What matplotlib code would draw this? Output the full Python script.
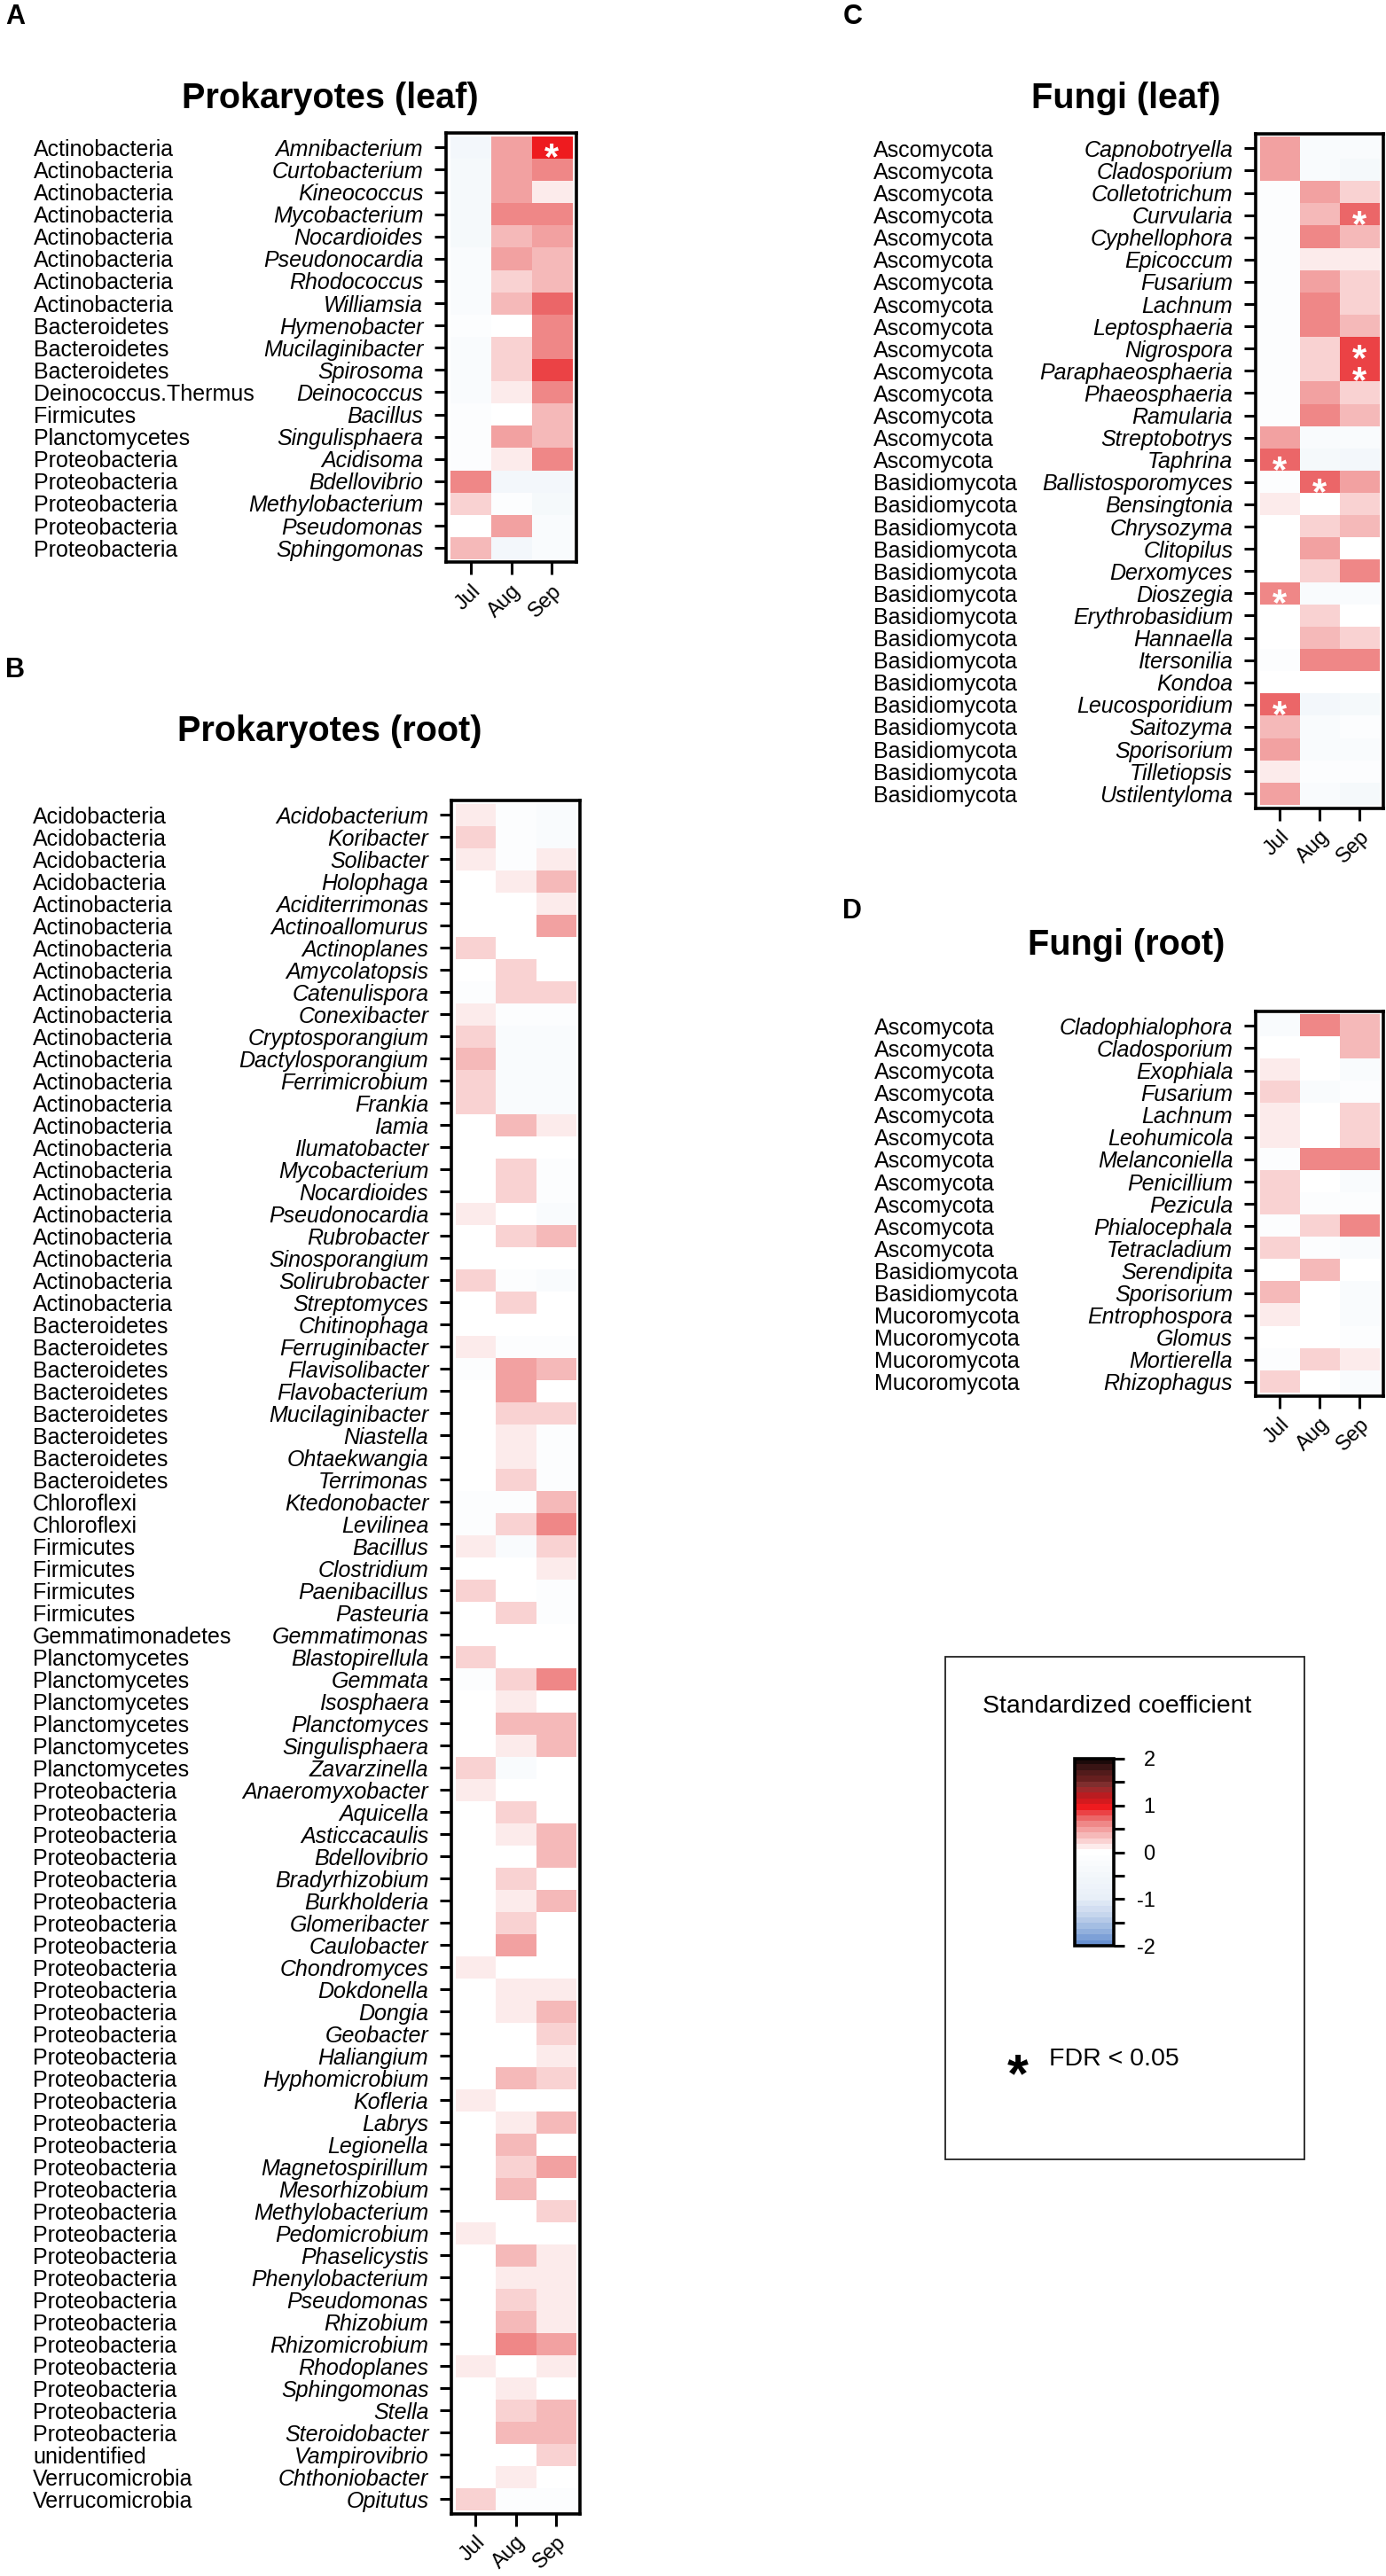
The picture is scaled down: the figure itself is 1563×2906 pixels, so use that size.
import numpy as np
import matplotlib
matplotlib.use('Agg')
import matplotlib.pyplot as plt
from matplotlib import transforms
from matplotlib.colors import LinearSegmentedColormap, Normalize
from matplotlib.cm import ScalarMappable
from matplotlib.patches import Rectangle

plt.rcParams['font.family'] = ['Liberation Sans', 'DejaVu Sans']

months = ['Jul', 'Aug', 'Sep']

# A: prokaryotes (leaf)
a_phylum = ['Actinobacteria'] * 8 + ['Bacteroidetes'] * 3 + ['Deinococcus.Thermus', 'Firmicutes', 'Planctomycetes'] + ['Proteobacteria'] * 5
a_genus = ['Amnibacterium', 'Curtobacterium', 'Kineococcus', 'Mycobacterium', 'Nocardioides', 'Pseudonocardia',
           'Rhodococcus', 'Williamsia', 'Hymenobacter', 'Mucilaginibacter', 'Spirosoma', 'Deinococcus', 'Bacillus',
           'Singulisphaera', 'Acidisoma', 'Bdellovibrio', 'Methylobacterium', 'Pseudomonas', 'Sphingomonas']
a_jul = [-0.5, -0.4, -0.4, -0.4, -0.4, -0.3, -0.3, -0.3, -0.1, -0.3, -0.3, -0.2, -0.1, -0.1, -0.1, 0.55, 0.3, 0.02, 0.35]
a_aug = [0.5, 0.5, 0.45, 0.6, 0.38, 0.5, 0.25, 0.42, 0.0, 0.3, 0.22, 0.18, 0.02, 0.48, 0.08, -0.5, -0.1, 0.5, -0.5]
a_sep = [1.0, 0.65, 0.12, 0.55, 0.5, 0.32, 0.38, 0.68, 0.55, 0.62, 0.85, 0.55, 0.35, 0.32, 0.6, -0.5, -0.4, -0.2, -0.3]
a_sig = [('Amnibacterium', 'Sep')]

# B: prokaryotes (root)
b_phylum = (['Acidobacteria'] * 4 + ['Actinobacteria'] * 19 + ['Bacteroidetes'] * 8 + ['Chloroflexi'] * 2
            + ['Firmicutes'] * 4 + ['Gemmatimonadetes'] + ['Planctomycetes'] * 6 + ['Proteobacteria'] * 30
            + ['unidentified'] + ['Verrucomicrobia'] * 2)
b_genus = ['Acidobacterium', 'Koribacter', 'Solibacter', 'Holophaga', 'Aciditerrimonas', 'Actinoallomurus',
           'Actinoplanes', 'Amycolatopsis', 'Catenulispora', 'Conexibacter', 'Cryptosporangium',
           'Dactylosporangium', 'Ferrimicrobium', 'Frankia', 'Iamia', 'Ilumatobacter', 'Mycobacterium',
           'Nocardioides', 'Pseudonocardia', 'Rubrobacter', 'Sinosporangium', 'Solirubrobacter', 'Streptomyces',
           'Chitinophaga', 'Ferruginibacter', 'Flavisolibacter', 'Flavobacterium', 'Mucilaginibacter', 'Niastella',
           'Ohtaekwangia', 'Terrimonas', 'Ktedonobacter', 'Levilinea', 'Bacillus', 'Clostridium', 'Paenibacillus',
           'Pasteuria', 'Gemmatimonas', 'Blastopirellula', 'Gemmata', 'Isosphaera', 'Planctomyces',
           'Singulisphaera', 'Zavarzinella', 'Anaeromyxobacter', 'Aquicella', 'Asticcacaulis', 'Bdellovibrio',
           'Bradyrhizobium', 'Burkholderia', 'Glomeribacter', 'Caulobacter', 'Chondromyces', 'Dokdonella',
           'Dongia', 'Geobacter', 'Haliangium', 'Hyphomicrobium', 'Kofleria', 'Labrys', 'Legionella',
           'Magnetospirillum', 'Mesorhizobium', 'Methylobacterium', 'Pedomicrobium', 'Phaselicystis',
           'Phenylobacterium', 'Pseudomonas', 'Rhizobium', 'Rhizomicrobium', 'Rhodoplanes', 'Sphingomonas',
           'Stella', 'Steroidobacter', 'Vampirovibrio', 'Chthoniobacter', 'Opitutus']
b_jul = [0.12, 0.2, 0.1, 0.0, 0.06, 0.0, 0.2, 0.0, -0.1, 0.15, 0.28, 0.38, 0.28, 0.28, 0.0, 0.06, 0.0, 0.0, 0.12,
         0.0, 0.05, 0.25, 0.05, 0.02, 0.15, -0.1, 0.0, -0.05, -0.05, -0.05, 0.0, -0.1, -0.1, 0.15, 0.0, 0.25, 0.0,
         0.0, 0.22, -0.1, 0.0, -0.05, -0.05, 0.25, 0.12, 0.0, 0.0, 0.0, 0.0, 0.0, 0.0, 0.0, 0.15, 0.0, -0.05, 0.0,
         0.0, -0.05, 0.15, 0.0, 0.0, -0.05, 0.0, 0.0, 0.12, 0.0, 0.0, 0.0, 0.0, 0.0, 0.08, 0.0, 0.0, -0.05, 0.0,
         0.0, 0.22]
b_aug = [-0.1, -0.1, -0.1, 0.12, 0.0, 0.05, 0.0, 0.22, 0.22, -0.1, -0.2, -0.3, -0.2, -0.2, 0.35, 0.0, 0.25, 0.25,
         0.05, 0.22, 0.0, -0.1, 0.2, 0.0, -0.1, 0.5, 0.5, 0.28, 0.15, 0.08, 0.28, -0.1, 0.3, -0.2, 0.0, 0.0, 0.28,
         0.05, 0.0, 0.25, 0.12, 0.38, 0.08, -0.2, 0.0, 0.22, 0.1, 0.0, 0.25, 0.12, 0.28, 0.45, 0.0, 0.12, 0.15,
         0.02, 0.02, 0.38, 0.0, 0.15, 0.4, 0.3, 0.38, 0.03, 0.0, 0.32, 0.18, 0.3, 0.38, 0.55, 0.0, 0.08, 0.2, 0.4,
         0.0, 0.18, -0.1]
b_sep = [-0.2, -0.2, 0.12, 0.42, 0.08, 0.45, 0.0, 0.0, 0.3, -0.1, -0.2, -0.2, -0.3, -0.2, 0.15, 0.0, -0.1, -0.1,
         -0.2, 0.42, 0.0, -0.2, 0.0, 0.0, -0.1, 0.35, 0.02, 0.25, -0.1, -0.1, -0.1, 0.38, 0.55, 0.22, 0.18, -0.1,
         -0.1, 0.05, 0.0, 0.6, 0.0, 0.35, 0.38, 0.0, 0.0, 0.0, 0.32, 0.35, -0.05, 0.35, 0.0, 0.0, 0.0, 0.18, 0.38,
         0.22, 0.15, 0.28, 0.0, 0.4, 0.0, 0.45, 0.0, 0.3, 0.0, 0.12, 0.08, 0.1, 0.15, 0.45, 0.15, 0.0, 0.35, 0.42,
         0.25, 0.0, -0.1]
b_sig = []

# C: fungi (leaf)
c_phylum = ['Ascomycota'] * 15 + ['Basidiomycota'] * 15
c_genus = ['Capnobotryella', 'Cladosporium', 'Colletotrichum', 'Curvularia', 'Cyphellophora', 'Epicoccum',
           'Fusarium', 'Lachnum', 'Leptosphaeria', 'Nigrospora', 'Paraphaeosphaeria', 'Phaeosphaeria', 'Ramularia',
           'Streptobotrys', 'Taphrina', 'Ballistosporomyces', 'Bensingtonia', 'Chrysozyma', 'Clitopilus',
           'Derxomyces', 'Dioszegia', 'Erythrobasidium', 'Hannaella', 'Itersonilia', 'Kondoa', 'Leucosporidium',
           'Saitozyma', 'Sporisorium', 'Tilletiopsis', 'Ustilentyloma']
c_jul = [0.48, 0.48, -0.1, -0.15, -0.15, -0.1, -0.1, -0.1, -0.1, -0.1, -0.1, -0.1, -0.1, 0.5, 0.72,
         -0.1, 0.15, 0.0, 0.0, 0.0, 0.6, 0.0, 0.0, -0.1, 0.0, 0.78, 0.4, 0.5, 0.15, 0.48]
c_aug = [-0.3, -0.2, 0.45, 0.35, 0.62, 0.1, 0.45, 0.55, 0.62, 0.25, 0.25, 0.45, 0.55, -0.2, -0.4,
         0.75, 0.0, 0.25, 0.52, 0.2, -0.3, 0.22, 0.35, 0.6, 0.0, -0.5, -0.2, -0.2, -0.1, -0.3]
c_sep = [-0.3, -0.35, 0.22, 0.78, 0.42, 0.12, 0.22, 0.28, 0.42, 0.85, 0.88, 0.2, 0.4, -0.3, -0.45,
         0.45, 0.25, 0.38, 0.0, 0.55, -0.3, 0.0, 0.22, 0.55, 0.05, -0.4, -0.1, -0.3, -0.1, -0.35]
c_sig = [('Curvularia', 'Sep'), ('Nigrospora', 'Sep'), ('Paraphaeosphaeria', 'Sep'), ('Taphrina', 'Jul'),
         ('Ballistosporomyces', 'Aug'), ('Dioszegia', 'Jul'), ('Leucosporidium', 'Jul')]

# D: fungi (root)
d_phylum = ['Ascomycota'] * 11 + ['Basidiomycota'] * 2 + ['Mucoromycota'] * 4
d_genus = ['Cladophialophora', 'Cladosporium', 'Exophiala', 'Fusarium', 'Lachnum', 'Leohumicola', 'Melanconiella',
           'Penicillium', 'Pezicula', 'Phialocephala', 'Tetracladium', 'Serendipita', 'Sporisorium',
           'Entrophospora', 'Glomus', 'Mortierella', 'Rhizophagus']
d_jul = [-0.3, 0.0, 0.15, 0.22, 0.08, 0.1, -0.1, 0.3, 0.25, -0.1, 0.3, 0.0, 0.35, 0.1, 0.05, -0.1, 0.2]
d_aug = [0.55, 0.0, 0.0, -0.2, 0.0, 0.0, 0.55, 0.0, -0.1, 0.22, -0.1, 0.32, 0.0, 0.05, 0.0, 0.3, 0.0]
d_sep = [0.38, 0.38, -0.2, -0.1, 0.2, 0.2, 0.58, -0.3, -0.1, 0.62, -0.2, 0.0, -0.3, -0.2, -0.1, 0.15, -0.2]
d_sig = []

# colour scale -2..2 (blue - white - red - black), stepped like the original
cb_vals = [-2.0, -1.7, -1.4, -1.0, -0.5, 0.0, 0.1, 0.2, 0.4, 0.6, 0.8, 1.0, 1.1, 1.3, 1.45, 1.6, 1.8, 2.0]
cb_cols = ['#6890d0', '#9ab6e0', '#c4d4ec', '#e8eff8', '#f3f7fb', '#ffffff', '#fdf0f0', '#fbdcdc', '#f5b4b4',
           '#f08e8e', '#ea5a5c', '#ee1b1f', '#d81a1e', '#b01c20', '#8a3535', '#6a2020', '#4a1a1a', '#1c0a0a']
cmap = LinearSegmentedColormap.from_list('coef', [((v + 2) / 4, c) for v, c in zip(cb_vals, cb_cols)], N=33)
norm = Normalize(-2, 2)

W, H = 1563, 2906
fig = plt.figure(figsize=(W / 100, H / 100), dpi=100)

FS = 18
PAD_R = 0.15
PAD_C = 0.1


def heat(left, right, top, row, phylum, genus, jul, aug, sep, sig, phy_x):
    n = len(genus)
    bottom = top + (n + 2 * PAD_R) * row
    ax = fig.add_axes([left / W, 1 - bottom / H, (right - left) / W, (bottom - top) / H])
    mat = np.column_stack([jul, aug, sep])
    ax.imshow(mat, cmap=cmap, norm=norm, aspect='auto', interpolation='nearest')
    ax.set_xlim(-0.5 - PAD_C, 2.5 + PAD_C)
    ax.set_ylim(n - 0.5 + PAD_R, -0.5 - PAD_R)
    ax.set_yticks(range(n))
    ax.set_yticklabels(genus, fontsize=FS, fontstyle='italic')
    ax.set_xticks(range(3))
    ax.set_xticklabels(months, fontsize=17, rotation=45, ha='right', rotation_mode='anchor')
    ax.tick_params(axis='y', length=9.5, width=2.2, pad=9)
    ax.tick_params(axis='x', length=10, width=2.2, pad=5)
    for s in ax.spines.values():
        s.set_linewidth(2.6)
    tr = transforms.blended_transform_factory(fig.transFigure, ax.transData)
    for i, p in enumerate(phylum):
        ax.text(phy_x / W, i, p, transform=tr, ha='left', va='center_baseline', fontsize=FS)
    # significant cells
    sfs = 30
    for g, m in sig:
        ax.annotate('*', (months.index(m), genus.index(g)), xytext=(0, -0.575 * sfs), textcoords='offset points',
                    ha='center', va='baseline', color='white', fontsize=sfs, fontweight='bold')
    return ax


heat(503, 650, 150, 25.1, a_phylum, a_genus, a_jul, a_aug, a_sep, a_sig, 38)
heat(509, 654, 903, 25.0, b_phylum, b_genus, b_jul, b_aug, b_sep, b_sig, 37)
heat(1416, 1560, 151, 25.1, c_phylum, c_genus, c_jul, c_aug, c_sep, c_sig, 985)
heat(1416, 1560, 1141, 25.1, d_phylum, d_genus, d_jul, d_aug, d_sep, d_sig, 986)

# titles and panel letters
titles = [('Prokaryotes (leaf)', 372, 111), ('Prokaryotes (root)', 372, 825),
          ('Fungi (leaf)', 1270, 111), ('Fungi (root)', 1270, 1066)]
for t, x, y in titles:
    fig.text(x / W, 1 - y / H, t, ha='center', va='center', fontsize=28.5, fontweight='bold')
letters = [('A', 17, 19), ('B', 17, 756), ('C', 962, 19), ('D', 961, 1028)]
for t, x, y in letters:
    fig.text(x / W, 1 - y / H, t, ha='center', va='center', fontsize=22, fontweight='bold')

# legend box
fig.add_artist(Rectangle((1066 / W, 1 - 2436 / H), (1471 - 1066) / W, (2436 - 1869) / H,
                         transform=fig.transFigure, fill=False, lw=1.3, ec='#222222'))
fig.text(1260 / W, 1 - 1925 / H, 'Standardized coefficient', ha='center', va='center', fontsize=20.5)

cax = fig.add_axes([1212 / W, 1 - 2195 / H, 44 / W, 211 / H])
cb = fig.colorbar(ScalarMappable(norm=norm, cmap=cmap), cax=cax, ticks=np.arange(-2, 2.01, 0.5))
cb.set_ticklabels(['-2', '', '-1', '', '0', '', '1', '', '2'])
cb.outline.set_linewidth(2.6)
cax.tick_params(length=8.6, width=2.2, pad=25, labelsize=17)
for lbl in cax.get_yticklabels():
    lbl.set_ha('right')

fig.text(1148 / W, 1 - (2324 + 0.575 * 44 * 100 / 72) / H, '*', ha='center', va='baseline',
         fontsize=44, fontweight='bold')
fig.text(1183 / W, 1 - 2330 / H, 'FDR < 0.05', ha='left', va='baseline', fontsize=20.5)

fig.savefig('out.png', dpi=100)
